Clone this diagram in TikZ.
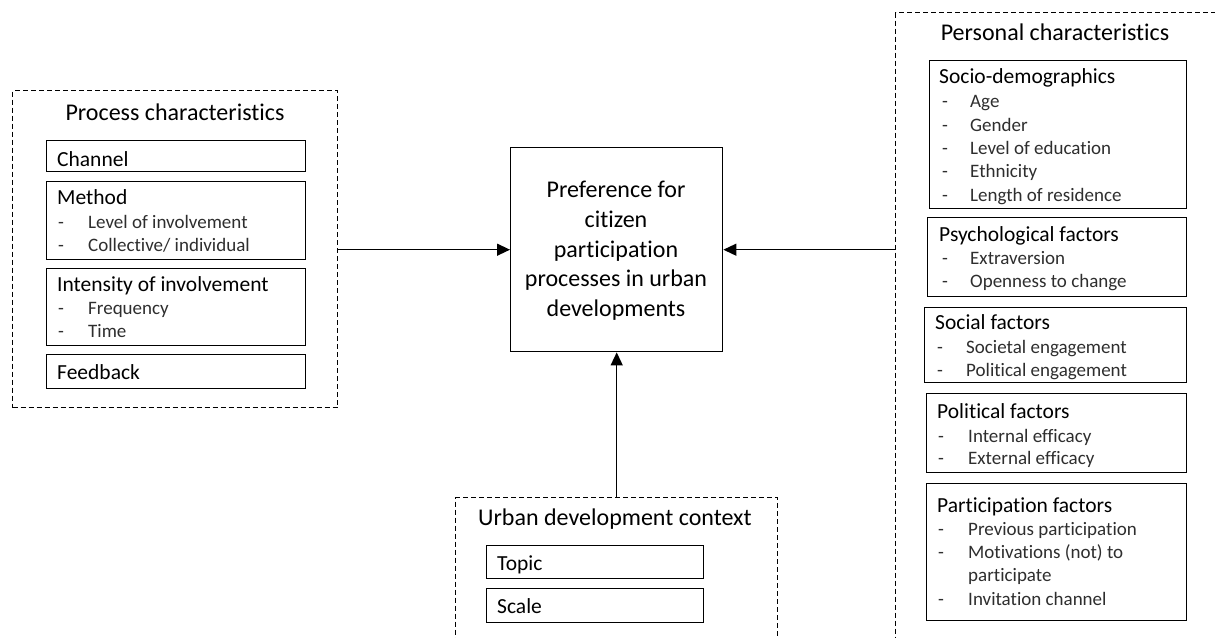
\documentclass[tikz,border=0pt]{standalone}
\usepackage{fontspec}
\setmainfont{Carlito}[RawFeature={-liga;-clig;-calt;-dlig}]
\usetikzlibrary{arrows.meta}

\tikzset{
  x=1pt, y=-1pt,
  box/.style={draw, line width=1.4pt, inner sep=0pt, anchor=north west},
  cont/.style={draw, dash pattern=on 5pt off 3pt, line width=1.2pt, inner sep=0pt, anchor=north west},
  ttl/.style={font=\fontsize{24}{29}\selectfont, anchor=base, inner sep=0pt},
  hd/.style={font=\fontsize{21.5}{25}\selectfont, anchor=base west, inner sep=0pt},
  itm/.style={font=\fontsize{19}{23}\selectfont, anchor=base west, inner sep=0pt, text=black!82},
  arr/.style={-{Triangle[length=13pt,width=12pt]}, line width=1.4pt},
}

\begin{document}
\begin{tikzpicture}
\useasboundingbox (0,0) rectangle (1215,637);
\fill[white] (0,0) rectangle (1215,637);
\clip (0,0) rectangle (1215,637);

% ---------- process characteristics ----------
\node[cont, minimum width=325pt, minimum height=317pt] (proc) at (12,90) {};
\node[ttl] (proc-t) at (175,120) {Process characteristics};

\node[box, minimum width=259pt, minimum height=31pt] (chan) at (46,140) {};
\node[hd] (chan-h) at (57,166) {Channel};

\node[box, minimum width=259pt, minimum height=78pt] (meth) at (46,181) {};
\node[hd] (meth-h) at (57,204) {Method};
\node[itm] (meth-d1) at (58,228) {-};
\node[itm] (meth-1) at (88,228) {Level of involvement};
\node[itm] (meth-d2) at (58,251) {-};
\node[itm] (meth-2) at (88,251) {Collective/ individual};

\node[box, minimum width=259pt, minimum height=77pt] (inten) at (46,268) {};
\node[hd] (inten-h) at (57,291) {Intensity of involvement};
\node[itm] (inten-d1) at (58,314) {-};
\node[itm] (inten-1) at (88,314) {Frequency};
\node[itm] (inten-d2) at (58,337) {-};
\node[itm] (inten-2) at (88,337) {Time};

\node[box, minimum width=259pt, minimum height=34pt] (feed) at (46,354) {};
\node[hd] (feed-h) at (57,379) {Feedback};

% ---------- outcome ----------
\node[box, minimum width=212pt, minimum height=204pt] (pref) at (510,147) {};
\node[font=\fontsize{24}{29.7}\selectfont, align=center, inner sep=0pt] (pref-t) at (616,251)
  {Preference for\\citizen\\participation\\processes in urban\\developments};

% ---------- urban development context ----------
\node[cont, minimum width=322pt, minimum height=160pt] (urb) at (455,497) {};
\node[ttl, anchor=base west] (urb-t) at (478,525) {Urban development context};
\node[box, minimum width=217pt, minimum height=33pt] (topic) at (486,545) {};
\node[hd] (topic-h) at (497,570) {Topic};
\node[box, minimum width=217pt, minimum height=34pt] (scale) at (486,588) {};
\node[hd] (scale-h) at (497,613) {Scale};

% ---------- personal characteristics ----------
\node[cont, minimum width=335pt, minimum height=650pt] (pers) at (895,12) {};
\node[ttl] (pers-t) at (1055,40) {Personal characteristics};

\node[box, minimum width=257pt, minimum height=148pt] (socio) at (929,60) {};
\node[hd] (socio-h) at (939,83) {Socio-demographics};
\node[itm] (socio-d1) at (942,107) {-};
\node[itm] (socio-1) at (970,107) {Age};
\node[itm] (socio-d2) at (942,131) {-};
\node[itm] (socio-2) at (970,131) {Gender};
\node[itm] (socio-d3) at (942,154) {-};
\node[itm] (socio-3) at (970,154) {Level of education};
\node[itm] (socio-d4) at (942,177) {-};
\node[itm] (socio-4) at (970,177) {Ethnicity};
\node[itm] (socio-d5) at (942,201) {-};
\node[itm] (socio-5) at (970,201) {Length of residence};

\node[box, minimum width=259pt, minimum height=79pt] (psych) at (927,217) {};
\node[hd] (psych-h) at (939,241) {Psychological factors};
\node[itm] (psych-d1) at (942,264) {-};
\node[itm] (psych-1) at (970,264) {Extraversion};
\node[itm] (psych-d2) at (942,287) {-};
\node[itm] (psych-2) at (970,287) {Openness to change};

\node[box, minimum width=262pt, minimum height=75pt] (social) at (924,307) {};
\node[hd] (social-h) at (935,329) {Social factors};
\node[itm] (social-d1) at (937,353) {-};
\node[itm] (social-1) at (966,353) {Societal engagement};
\node[itm] (social-d2) at (937,376) {-};
\node[itm] (social-2) at (966,376) {Political engagement};

\node[box, minimum width=260pt, minimum height=79pt] (polit) at (926,393) {};
\node[hd] (polit-h) at (937,418) {Political factors};
\node[itm] (polit-d1) at (938,442) {-};
\node[itm] (polit-1) at (968,442) {Internal efficacy};
\node[itm] (polit-d2) at (938,464) {-};
\node[itm] (polit-2) at (968,464) {External efficacy};

\node[box, minimum width=260pt, minimum height=137pt] (partic) at (926,483) {};
\node[hd] (partic-h) at (937,512) {Participation factors};
\node[itm] (partic-d1) at (938,535) {-};
\node[itm] (partic-1) at (968,535) {Previous participation};
\node[itm] (partic-d2) at (938,558) {-};
\node[itm] (partic-2) at (968,558) {Motivations (not) to};
\node[itm] (partic-2b) at (968,581) {participate};
\node[itm] (partic-d3) at (938,605) {-};
\node[itm] (partic-3) at (968,605) {Invitation channel};

% ---------- connectors ----------
\draw[arr] (proc.east |- pref.west) -- (pref.west);
\draw[arr] (pers.west |- pref.east) -- (pref.east);
\draw[arr] (urb.north -| pref.south) -- (pref.south);
\end{tikzpicture}
\end{document}
